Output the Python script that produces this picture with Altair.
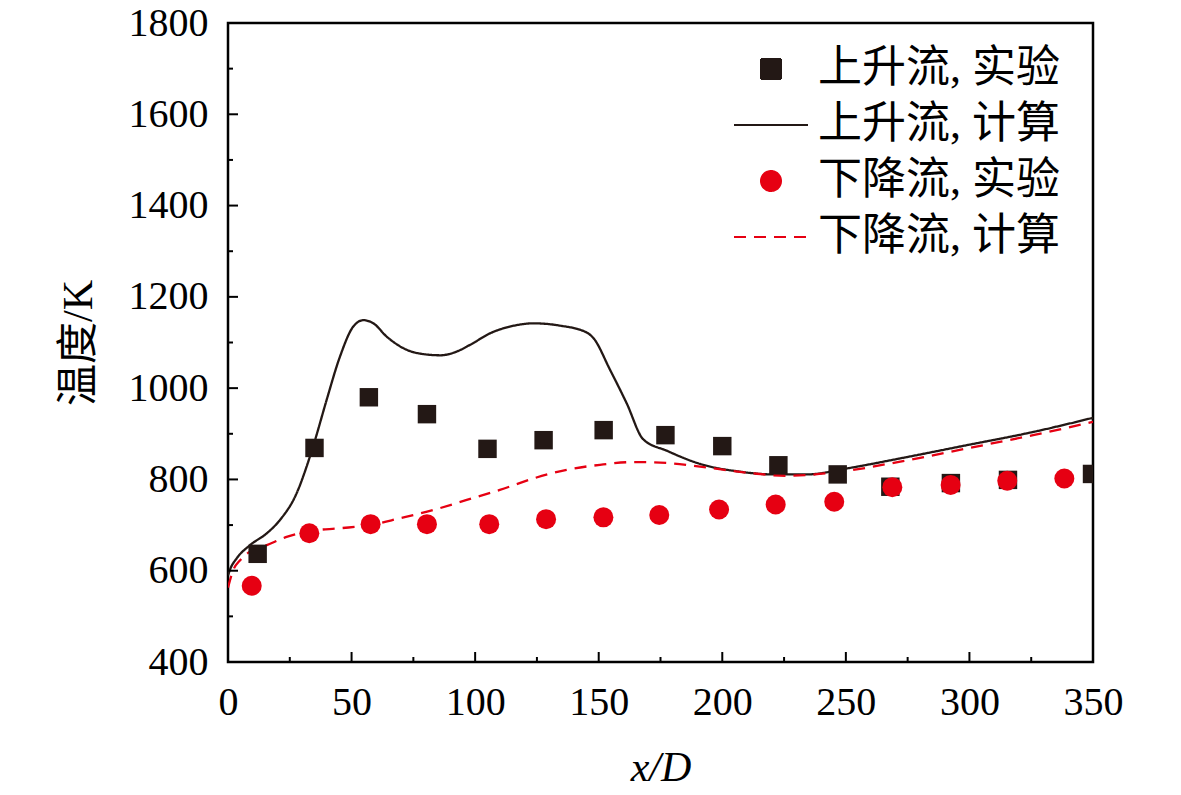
import altair as alt
import pandas as pd

# ---- data ----
series_names = ["上升流, 实验", "上升流, 计算", "下降流, 实验", "下降流, 计算"]

up_exp_x = [12, 35, 57, 80.5, 105, 127.7, 152, 177, 200, 222.7, 246.7, 268, 292.5, 315.6, 349.6]
up_exp_T = [637, 869, 980, 943, 867, 886, 908, 897, 873, 831, 811, 784, 792, 799, 812]

down_exp_x = [9.6, 32.9, 57.7, 80.5, 105.7, 128.7, 151.9, 174.5, 198.7, 221.6, 245.3, 268.8, 292.4, 315.3, 338.4]
down_exp_T = [567, 682, 702, 702, 702, 713, 717, 722, 734, 745, 751, 783, 788, 797, 802]

up_calc_x = [0, 1, 3.5, 8.9, 15.7, 21, 27.8, 31.8, 35.2, 39.9, 45.3, 50.7, 54.8, 58.8, 64.2, 72.3,
             80, 86, 92, 98, 106, 116.8, 123.5, 134.3, 145.1, 147.8, 154.6, 161.3, 168, 177.5,
             191, 207.2, 220.6, 234.2, 250.3, 271.9, 298.9, 325.8, 350]
up_calc_T = [590, 605, 627, 656, 682, 711, 770, 828, 886, 974, 1069, 1135, 1149, 1142, 1113, 1084,
             1074, 1072, 1079, 1095, 1120, 1138, 1142, 1137, 1122, 1110, 1040, 967, 888, 863,
             834, 817, 811, 811, 824, 846, 875, 904, 935]

down_calc_x = [0, 2.1, 4.9, 8.9, 15.7, 23.7, 33.2, 45.3, 57.5, 69.6, 83.1, 96.6, 110, 123.5, 137,
               150.5, 164, 177.5, 191, 211.2, 226, 245, 272, 299, 325.8, 350]
down_calc_T = [563, 601, 623, 642, 656, 674, 687, 693, 700, 715, 733, 755, 777, 802, 821,
               832, 838, 836, 828, 814, 808, 815, 839, 868, 897, 926]

x_major = [0, 50, 100, 150, 200, 250, 300, 350]
x_minor = [25, 75, 125, 175, 225, 275, 325]
y_major = [400, 600, 800, 1000, 1200, 1400, 1600, 1800]
y_minor = [500, 700, 900, 1100, 1300, 1500, 1700]

# ---- tables ----
up_exp = pd.DataFrame({"x": up_exp_x, "T": up_exp_T, "s": series_names[0]})
down_exp = pd.DataFrame({"x": down_exp_x, "T": down_exp_T, "s": series_names[2]})
up_calc = pd.DataFrame({"x": up_calc_x, "T": up_calc_T, "s": series_names[1]})
down_calc = pd.DataFrame({"x": down_calc_x, "T": down_calc_T, "s": series_names[3]})
lines = pd.concat([up_calc, down_calc], ignore_index=True)

BLACK = "#231815"
RED = "#e60012"
SERIF = "Liberation Serif, Times New Roman, Noto Sans CJK SC"

W, H = 865, 639

xscale = alt.Scale(domain=[0, 350], nice=False, zero=False)
yscale = alt.Scale(domain=[400, 1800], nice=False, zero=False)

col_scale = alt.Scale(domain=series_names, range=[BLACK, BLACK, RED, RED])
shape_scale = alt.Scale(domain=series_names,
                        range=["square", "M-3.7,0H3.7", "circle", "M-3.7,0H3.7"])
dash_scale = alt.Scale(domain=series_names, range=[[1, 0], [1, 0], [1, 0], [12, 8]])

legend = alt.Legend(
    title=None, orient="none", legendX=521, legendY=24,
    labelFont=SERIF, labelFontSize=44, labelColor="black", labelLimit=500,
    labelOffset=25, rowPadding=12, symbolSize=400, symbolStrokeWidth=2,
    padding=0, symbolOpacity=1,
)

x_axis = alt.Axis(values=x_major, ticks=False, domain=False, grid=False, format="d",
                  labelFont=SERIF, labelFontSize=40, labelColor="black",
                  labelPadding=20, labelFlush=False, labelOverlap=False,
                  title="x/D", titleFont=SERIF, titleFontSize=42, titleFontStyle="italic",
                  titleFontWeight="normal", titleColor="black",
                  titleBaseline="alphabetic", titleY=118)
y_axis = alt.Axis(values=y_major, ticks=False, domain=False, grid=False, format="d",
                  labelFont=SERIF, labelFontSize=40, labelColor="black",
                  labelPadding=20, labelFlush=False, labelOverlap=False,
                  title="温度/K", titleFont=SERIF, titleFontSize=42,
                  titleFontWeight="normal", titleColor="black",
                  titleBaseline="middle", titleX=-150, titleY=H / 2, titleAngle=270)

enc_x = alt.X("x:Q", scale=xscale, axis=x_axis)
enc_y = alt.Y("T:Q", scale=yscale, axis=y_axis)

line_layer = alt.Chart(lines).mark_line(strokeWidth=2.3, interpolate="monotone", clip=True).encode(
    x=enc_x, y=enc_y,
    stroke=alt.Stroke("s:N", scale=col_scale, legend=legend),
    strokeDash=alt.StrokeDash("s:N", scale=dash_scale, legend=legend),
    detail="s:N",
)

sq_layer = alt.Chart(up_exp).mark_point(filled=True, size=340, strokeWidth=0, opacity=1, clip=True).encode(
    x="x:Q", y="T:Q",
    fill=alt.Fill("s:N", scale=col_scale, legend=legend),
    stroke=alt.Stroke("s:N", scale=col_scale, legend=legend),
    shape=alt.Shape("s:N", scale=shape_scale, legend=legend),
)

ci_layer = alt.Chart(down_exp).mark_point(filled=True, size=400, strokeWidth=0, opacity=1, clip=True).encode(
    x="x:Q", y="T:Q",
    fill=alt.Fill("s:N", scale=col_scale, legend=legend),
    stroke=alt.Stroke("s:N", scale=col_scale, legend=legend),
    shape=alt.Shape("s:N", scale=shape_scale, legend=legend),
)

# inward ticks drawn from the tick value arrays
xt_major = alt.Chart(pd.DataFrame({"x": x_major})).mark_rule(color="black", strokeWidth=2).encode(
    x="x:Q", y=alt.value(H), y2=alt.value(H - 10))
xt_minor = alt.Chart(pd.DataFrame({"x": x_minor})).mark_rule(color="black", strokeWidth=2).encode(
    x="x:Q", y=alt.value(H), y2=alt.value(H - 5))
yt_major = alt.Chart(pd.DataFrame({"T": y_major})).mark_rule(color="black", strokeWidth=2).encode(
    y="T:Q", x=alt.value(0), x2=alt.value(10))
yt_minor = alt.Chart(pd.DataFrame({"T": y_minor})).mark_rule(color="black", strokeWidth=2).encode(
    y="T:Q", x=alt.value(0), x2=alt.value(5))

chart = alt.layer(
    line_layer, sq_layer, ci_layer, xt_major, xt_minor, yt_major, yt_minor
).properties(
    width=W, height=H,
    background="white",
    autosize=alt.AutoSizeParams(type="none"),
    padding={"left": 220, "top": 15, "right": 80, "bottom": 125},
).configure_view(
    stroke="black", strokeWidth=2.5
)

chart.save("out.html", embed_options={"renderer": "svg", "actions": False})
